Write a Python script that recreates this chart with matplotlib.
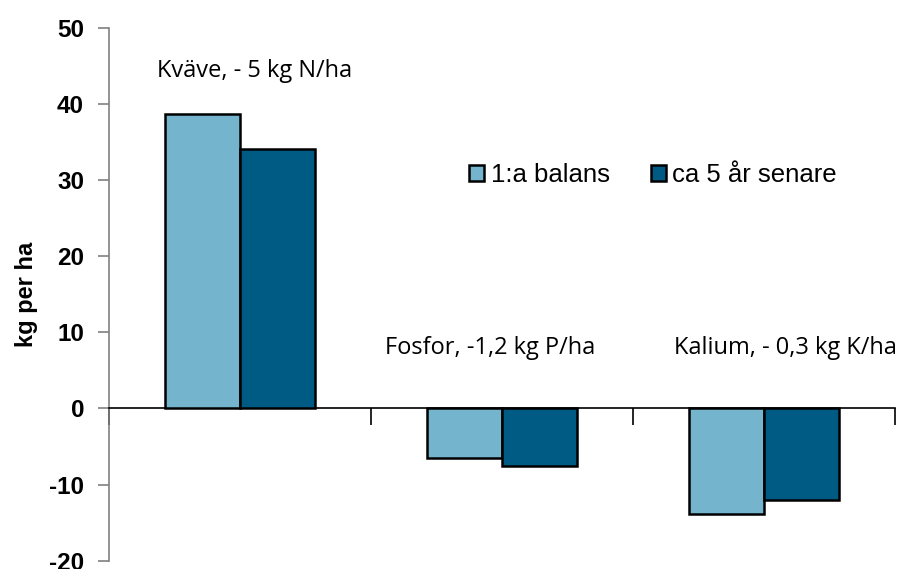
import numpy as np
import matplotlib.pyplot as plt

# data
categories = ["Kväve", "Fosfor", "Kalium"]
notes = ["Kväve, - 5 kg N/ha", "Fosfor, -1,2 kg P/ha", "Kalium, - 0,3 kg K/ha"]
series = ["1:a balans", "ca 5 år senare"]
first_balance = [38.7, -6.5, -13.8]
five_years_later = [34.1, -7.6, -12.0]
yticks = [-20, -10, 0, 10, 20, 30, 40, 50]

light = "#74B4CD"
dark = "#005B84"

plt.rcParams['font.family'] = ['Liberation Sans', 'DejaVu Sans']

fig = plt.figure(figsize=(9.1, 5.69), dpi=100)
ax = fig.add_axes([0.1198, 0.0146, 0.8637, 0.9362])

x = np.arange(len(categories))
w = 0.286
ax.bar(x - w / 2, first_balance, w, color=light, edgecolor="black", linewidth=1.8, label=series[0], zorder=3)
ax.bar(x + w / 2, five_years_later, w, color=dark, edgecolor="black", linewidth=1.8, label=series[1], zorder=3)

ax.set_xlim(-0.5, len(categories) - 0.5)
ax.set_ylim(-20, 50)
ax.set_yticks(yticks)
ax.set_yticklabels([str(t) for t in yticks], fontsize=17.5, fontweight="bold")
ax.set_ylabel("kg per ha", fontsize=17, fontweight="bold", labelpad=8)

# category boundaries as ticks on the zero line
ax.set_xticks(np.arange(-0.5, len(categories), 1.0))
ax.set_xticklabels([])
ax.tick_params(axis="x", direction="out", length=12, width=1.2, color="black")
ax.tick_params(axis="y", direction="out", length=8, width=1.2, color="#808080", pad=10)

for s in ["top", "right"]:
    ax.spines[s].set_visible(False)
ax.spines["bottom"].set_position(("data", 0))
ax.spines["bottom"].set_color("black")
ax.spines["bottom"].set_linewidth(1.2)
ax.spines["left"].set_color("#808080")
ax.spines["left"].set_linewidth(1.2)

# element notes above the bars
note_pos = [(0.057, 44.4), (0.954, 7.9), (2.08, 7.9)]
for (nx, ny), t in zip(note_pos, notes):
    ax.text(nx, ny, t, ha="center", va="center", fontsize=17,
            family=["Open Sans", "DejaVu Sans"])

ax.legend(loc="center", bbox_to_anchor=(0.692, 0.724), ncol=2, frameon=False,
          fontsize=18.5, handlelength=0.6, handleheight=0.6, handletextpad=0.25,
          columnspacing=1.6, borderaxespad=0)

fig.savefig("out.png", dpi=100)
plt.close(fig)
